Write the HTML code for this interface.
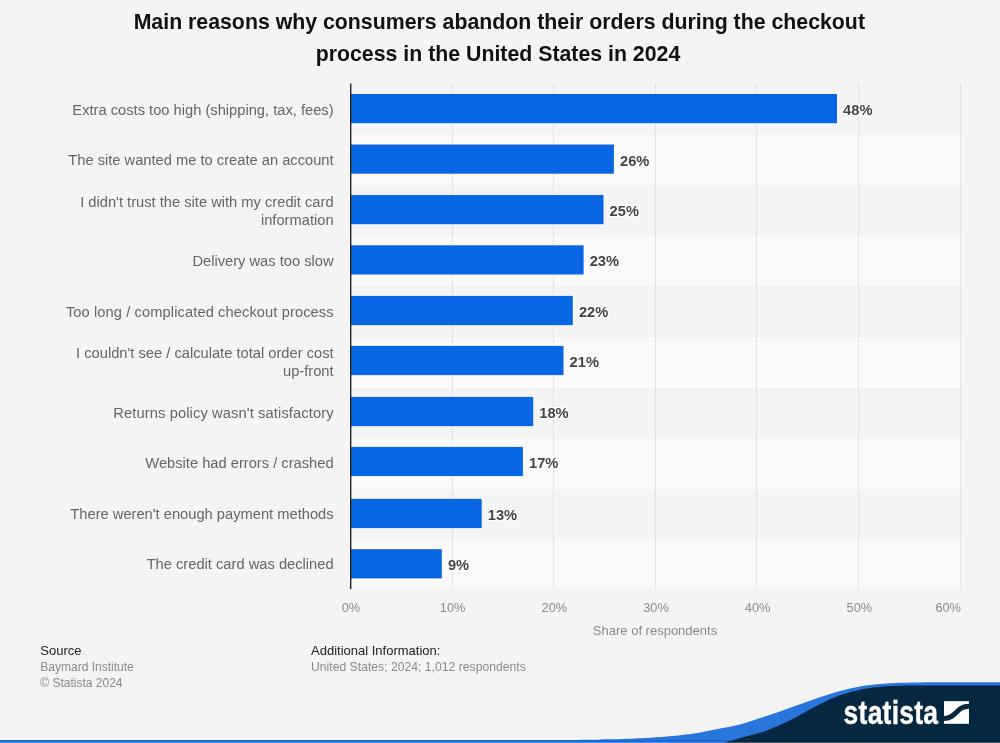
<!DOCTYPE html>
<html><head><meta charset="utf-8"><style>
html,body{margin:0;padding:0;background:#f4f4f4;}
body{width:1000px;height:743px;overflow:hidden;}
svg{display:block;will-change:transform;font-family:"Liberation Sans",sans-serif;}
.yl{font-size:14.7px;fill:#666;text-anchor:end;}
.dl{font-size:15.2px;font-weight:bold;fill:#444;stroke:#fff;stroke-width:2.5px;paint-order:stroke;stroke-linejoin:round;}
.xl{font-size:12.8px;fill:#8a8a8a;}
.at{font-size:13px;fill:#8a8a8a;}
.tt{font-size:21.3px;font-weight:bold;fill:#111;}
.fh{font-size:13px;fill:#222;}
.fd{font-size:12px;fill:#8a8a8a;}
.lg{font-size:33px;font-weight:bold;fill:#fff;stroke:#fff;stroke-width:0.4px;}
</style></head><body>
<svg width="1000" height="743" viewBox="0 0 1000 743">
<rect width="1000" height="743" fill="#f4f4f4"/>
<rect x="351.0" y="134.8" width="610.0" height="50.30" fill="#fafafa"/>
<rect x="351.0" y="235.5" width="610.0" height="50.30" fill="#fafafa"/>
<rect x="351.0" y="337.2" width="610.0" height="50.80" fill="#fafafa"/>
<rect x="351.0" y="438.3" width="610.0" height="50.50" fill="#fafafa"/>
<rect x="351.0" y="538.8" width="610.0" height="50.20" fill="#fafafa"/>
<line x1="452.50" y1="84.0" x2="452.50" y2="589.0" stroke="#c6c6c6" stroke-width="1" stroke-dasharray="1,1.65"/>
<line x1="553.50" y1="84.0" x2="553.50" y2="589.0" stroke="#c6c6c6" stroke-width="1" stroke-dasharray="1,1.65"/>
<line x1="655.50" y1="84.0" x2="655.50" y2="589.0" stroke="#c6c6c6" stroke-width="1" stroke-dasharray="1,1.65"/>
<line x1="756.50" y1="84.0" x2="756.50" y2="589.0" stroke="#c6c6c6" stroke-width="1" stroke-dasharray="1,1.65"/>
<line x1="858.50" y1="84.0" x2="858.50" y2="589.0" stroke="#c6c6c6" stroke-width="1" stroke-dasharray="1,1.65"/>
<line x1="960.50" y1="84.0" x2="960.50" y2="589.0" stroke="#c6c6c6" stroke-width="1" stroke-dasharray="1,1.65"/>
<rect x="351.0" y="94.00" width="486.00" height="29.2" fill="#0766e3"/>
<text transform="translate(843.10,115.10) scale(0.965,1)" class="dl">48%</text>
<text x="333.6" y="115.00" class="yl">Extra costs too high (shipping, tax, fees)</text>
<rect x="351.0" y="144.50" width="262.90" height="29.2" fill="#0766e3"/>
<text transform="translate(620.00,165.60) scale(0.965,1)" class="dl">26%</text>
<text x="333.6" y="165.45" class="yl">The site wanted me to create an account</text>
<rect x="351.0" y="195.00" width="252.50" height="29.2" fill="#0766e3"/>
<text transform="translate(609.60,216.10) scale(0.965,1)" class="dl">25%</text>
<text x="333.6" y="206.60" class="yl">I didn't trust the site with my credit card</text>
<text x="333.6" y="225.10" class="yl">information</text>
<rect x="351.0" y="245.30" width="232.60" height="29.2" fill="#0766e3"/>
<text transform="translate(589.70,266.40) scale(0.965,1)" class="dl">23%</text>
<text x="333.6" y="266.35" class="yl">Delivery was too slow</text>
<rect x="351.0" y="295.90" width="221.80" height="29.2" fill="#0766e3"/>
<text transform="translate(578.90,317.00) scale(0.965,1)" class="dl">22%</text>
<text x="333.6" y="316.80" class="yl" textLength="267.7" lengthAdjust="spacing">Too long / complicated checkout process</text>
<rect x="351.0" y="345.90" width="212.50" height="29.2" fill="#0766e3"/>
<text transform="translate(569.60,367.00) scale(0.965,1)" class="dl">21%</text>
<text x="333.6" y="357.95" class="yl">I couldn't see / calculate total order cost</text>
<text x="333.6" y="376.45" class="yl">up-front</text>
<rect x="351.0" y="396.90" width="182.20" height="29.2" fill="#0766e3"/>
<text transform="translate(539.30,418.00) scale(0.965,1)" class="dl">18%</text>
<text x="333.6" y="417.70" class="yl" textLength="220.3" lengthAdjust="spacing">Returns policy wasn't satisfactory</text>
<rect x="351.0" y="446.90" width="171.90" height="29.2" fill="#0766e3"/>
<text transform="translate(529.00,468.00) scale(0.965,1)" class="dl">17%</text>
<text x="333.6" y="468.15" class="yl">Website had errors / crashed</text>
<rect x="351.0" y="498.90" width="130.70" height="29.2" fill="#0766e3"/>
<text transform="translate(487.80,520.00) scale(0.965,1)" class="dl">13%</text>
<text x="333.6" y="518.60" class="yl">There weren't enough payment methods</text>
<rect x="351.0" y="549.20" width="90.80" height="29.2" fill="#0766e3"/>
<text transform="translate(447.90,570.30) scale(0.965,1)" class="dl">9%</text>
<text x="333.6" y="569.05" class="yl">The credit card was declined</text>
<rect x="350" y="83.4" width="1.4" height="505.6" fill="#262626"/>
<text x="351.00" y="612" class="xl" text-anchor="middle">0%</text>
<text x="452.67" y="612" class="xl" text-anchor="middle">10%</text>
<text x="554.34" y="612" class="xl" text-anchor="middle">20%</text>
<text x="656.01" y="612" class="xl" text-anchor="middle">30%</text>
<text x="757.68" y="612" class="xl" text-anchor="middle">40%</text>
<text x="859.35" y="612" class="xl" text-anchor="middle">50%</text>
<text x="961" y="612" class="xl" text-anchor="end">60%</text>
<text x="655" y="635" class="at" text-anchor="middle">Share of respondents</text>
<text x="499.3" y="29" class="tt" text-anchor="middle">Main reasons why consumers abandon their orders during the checkout</text>
<text x="498" y="61" class="tt" text-anchor="middle">process in the United States in 2024</text>
<text x="40.3" y="655" class="fh">Source</text>
<text x="40.3" y="670.6" class="fd">Baymard Institute</text>
<text x="40.3" y="686.6" class="fd">© Statista 2024</text>
<text x="311" y="655" class="fh">Additional Information:</text>
<text x="311" y="670.6" class="fd" style="font-size:12.2px">United States; 2024; 1,012 respondents</text>
<path d="M0.0,740.0 C90.0,740.0 440.0,740.1 540.0,740.0 C640.0,739.9 583.3,739.8 600.0,739.5 C616.7,739.2 626.7,739.0 640.0,738.3 C653.3,737.6 670.0,736.2 680.0,735.2 C690.0,734.2 693.3,733.6 700.0,732.5 C706.7,731.4 713.3,729.9 720.0,728.6 C726.7,727.3 733.3,726.2 740.0,724.5 C746.7,722.8 753.3,720.3 760.0,718.1 C766.7,715.9 773.3,713.7 780.0,711.4 C786.7,709.1 793.3,706.7 800.0,704.3 C806.7,701.9 813.3,699.4 820.0,697.2 C826.7,695.0 833.3,692.8 840.0,691.0 C846.7,689.2 853.3,687.6 860.0,686.4 C866.7,685.2 873.3,684.6 880.0,684.0 C886.7,683.4 893.3,683.1 900.0,682.8 C906.7,682.5 910.0,682.5 920.0,682.4 C930.0,682.3 946.7,682.3 960.0,682.3 C973.3,682.3 993.3,682.3 1000.0,682.3 L1000,743 L0,743 Z" fill="#2876dc"/>
<rect x="0" y="740" width="740" height="3" fill="#176ad8"/>
<path d="M715.0,744.0 C716.7,743.8 720.8,743.5 725.0,742.5 C729.2,741.5 734.2,739.6 740.0,738.0 C745.8,736.4 753.3,735.0 760.0,732.8 C766.7,730.6 773.3,728.0 780.0,725.0 C786.7,722.0 793.3,718.5 800.0,715.0 C806.7,711.5 813.3,707.5 820.0,704.2 C826.7,700.9 833.3,697.7 840.0,695.3 C846.7,692.9 853.3,691.1 860.0,689.7 C866.7,688.3 873.3,687.5 880.0,686.8 C886.7,686.1 893.3,685.9 900.0,685.7 C906.7,685.5 910.0,685.5 920.0,685.5 C930.0,685.5 946.7,685.4 960.0,685.4 C973.3,685.4 993.3,685.4 1000.0,685.4 L1000,743 L715,743 Z" fill="#05273f"/>
<rect x="0" y="742" width="1000" height="1" fill="#fff" fill-opacity="0.24"/>
<text transform="translate(843.6,723.9) scale(0.8,1)" class="lg" letter-spacing="0.35">statista</text>
<rect x="944" y="701.2" width="25" height="22.6" fill="#fff"/>
<path d="M944,718.5 C956.5,718.5 956,706.2 969,706.2" fill="none" stroke="#05273f" stroke-width="5"/>
</svg>
</body></html>
